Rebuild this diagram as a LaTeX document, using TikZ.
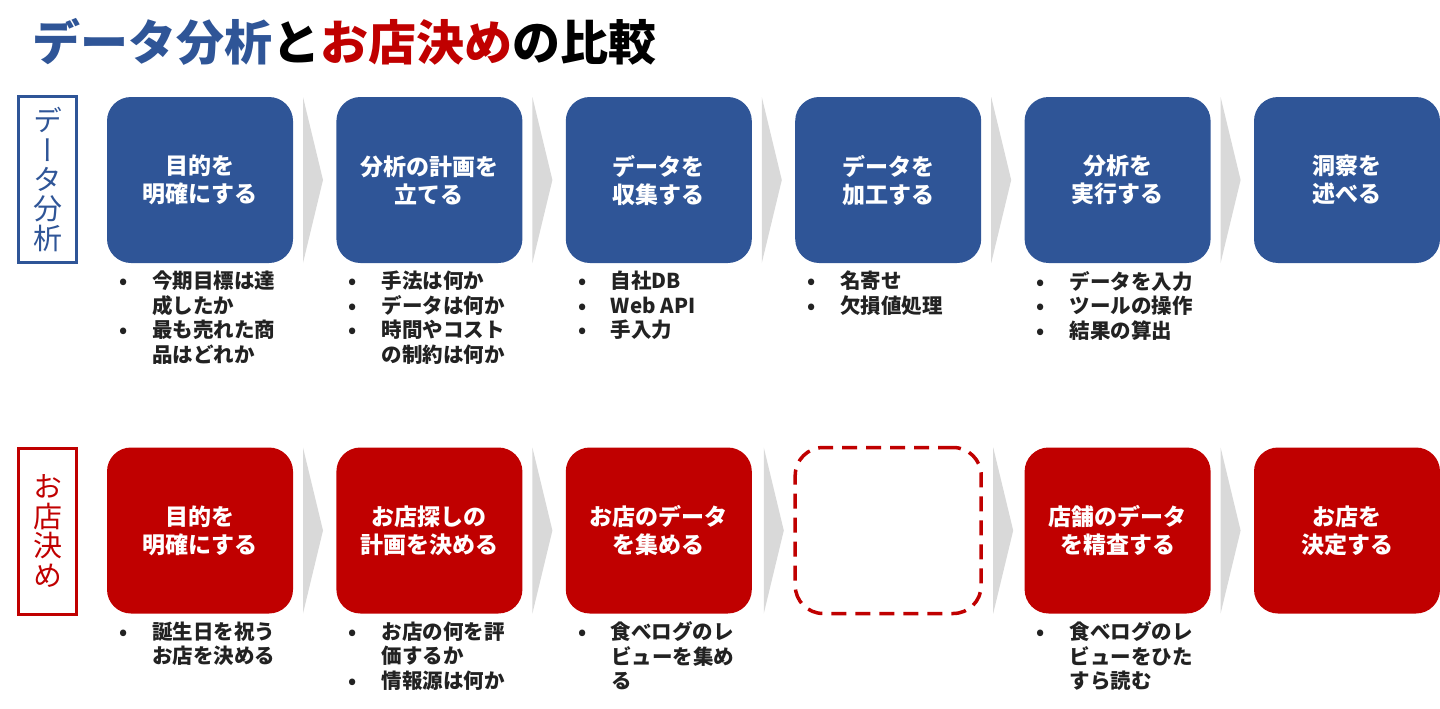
\documentclass[tikz,border=0pt]{standalone}
\usepackage{fontspec}
\setmainfont{Noto Sans CJK JP}
\newfontfamily\tate[RawFeature=+vert]{Noto Sans CJK JP}
\usetikzlibrary{arrows.meta,positioning}
\definecolor{anablue}{HTML}{2F5597}
\definecolor{shopred}{HTML}{C00000}
\definecolor{chevgray}{HTML}{D9D9D9}
\definecolor{notegray}{HTML}{222222}
\newcommand{\bul}{\makebox[33pt][l]{•}}
\newcommand{\cont}{\hspace*{33pt}}
\tikzset{
  stage/.style={rounded corners=24pt, minimum width=186pt, minimum height=166pt,
    inner sep=0pt, outer sep=0pt, text=white, align=center,
    font=\bfseries\fontsize{23}{28}\selectfont},
  bluestage/.style={stage, fill=anablue},
  redstage/.style={stage, fill=shopred},
  emptystage/.style={stage, draw=shopred, line width=3.5pt,
    dash pattern=on 15pt off 9pt, rounded corners=28pt},
  chev/.style={fill=chevgray},
  notes/.style={anchor=north west, align=left, inner sep=0pt, text=notegray,
    font=\bfseries\fontsize{20.5}{24.5}\selectfont},
  sidetag/.style={draw, line width=3pt, minimum width=58pt, minimum height=166pt,
    inner sep=0pt, align=center, font=\tate\fontsize{29}{29.4}\selectfont},
}
\begin{document}
\begin{tikzpicture}[x=1pt,y=-1pt,>=Latex]
  \useasboundingbox (0,0) rectangle (1440,709);
  \node[anchor=west, font=\bfseries\fontsize{48}{50}\selectfont] (title) at (29,42)
    {\textcolor{anablue}{データ分析}と\textcolor{shopred}{お店決め}の比較};

  % upper row
  \node[sidetag, draw=anablue, text=anablue] (t1) at (47.5,179.5) {デ\\ー\\タ\\分\\析};
  \node[bluestage] (b11) at (200,180) {目的を\\明確にする};
  \node[bluestage, right=43.4pt of b11] (b12) {分析の計画を\\立てる};
  \node[bluestage, right=43.4pt of b12] (b13) {データを\\収集する};
  \node[bluestage, right=43.4pt of b13] (b14) {データを\\加工する};
  \node[bluestage, right=43.4pt of b14] (b15) {分析を\\実行する};
  \node[bluestage, right=43.4pt of b15] (b16) {洞察を\\述べる};

  \node[notes] (n11) at ([xshift=12pt,yshift=-8pt]b11.south west)
    {\bul 今期目標は達\\\cont 成したか\\\bul 最も売れた商\\\cont 品はどれか};
  \node[notes] (n12) at ([xshift=12pt,yshift=-8pt]b12.south west)
    {\bul 手法は何か\\\bul データは何か\\\bul 時間やコスト\\\cont の制約は何か};
  \node[notes] (n13) at ([xshift=12pt,yshift=-8pt]b13.south west)
    {\bul 自社DB\\\bul Web API\\\bul 手入力};
  \node[notes] (n14) at ([xshift=12pt,yshift=-8pt]b14.south west)
    {\bul 名寄せ\\\bul 欠損値処理};
  \node[notes] (n15) at ([xshift=12pt,yshift=-8pt]b15.south west)
    {\bul データを入力\\\bul ツールの操作\\\bul 結果の算出};

  % lower row
  \node[sidetag, draw=shopred, text=shopred] (t2) at (47.5,531) {お\\店\\決\\め};
  \node[redstage] (b21) at (200,530.5) {目的を\\明確にする};
  \node[redstage, right=43.4pt of b21] (b22) {お店探しの\\計画を決める};
  \node[redstage, right=43.4pt of b22] (b23) {お店のデータ\\を集める};
  \node[emptystage, right=43.4pt of b23] (b24) {};
  \node[redstage, right=43.4pt of b24] (b25) {店舗のデータ\\を精査する};
  \node[redstage, right=43.4pt of b25] (b26) {お店を\\決定する};

  \node[notes] (n21) at ([xshift=12pt,yshift=-8pt]b21.south west)
    {\bul 誕生日を祝う\\\cont お店を決める};
  \node[notes] (n22) at ([xshift=12pt,yshift=-8pt]b22.south west)
    {\bul お店の何を評\\\cont 価するか\\\bul 情報源は何か};
  \node[notes] (n23) at ([xshift=12pt,yshift=-8pt]b23.south west)
    {\bul 食べログのレ\\\cont ビューを集め\\\cont る};
  \node[notes] (n25) at ([xshift=12pt,yshift=-8pt]b25.south west)
    {\bul 食べログのレ\\\cont ビューをひた\\\cont すら読む};

  % chevrons between the stages
  \fill[chev] ([xshift=10pt]b11.north east) -- ([xshift=30pt]b11.east) -- ([xshift=10pt]b11.south east) -- cycle;
  \fill[chev] ([xshift=10pt]b12.north east) -- ([xshift=30pt]b12.east) -- ([xshift=10pt]b12.south east) -- cycle;
  \fill[chev] ([xshift=10pt]b13.north east) -- ([xshift=30pt]b13.east) -- ([xshift=10pt]b13.south east) -- cycle;
  \fill[chev] ([xshift=10pt]b14.north east) -- ([xshift=30pt]b14.east) -- ([xshift=10pt]b14.south east) -- cycle;
  \fill[chev] ([xshift=10pt]b15.north east) -- ([xshift=30pt]b15.east) -- ([xshift=10pt]b15.south east) -- cycle;
  \fill[chev] ([xshift=10pt]b21.north east) -- ([xshift=30pt]b21.east) -- ([xshift=10pt]b21.south east) -- cycle;
  \fill[chev] ([xshift=10pt]b22.north east) -- ([xshift=30pt]b22.east) -- ([xshift=10pt]b22.south east) -- cycle;
  \fill[chev] ([xshift=12pt]b23.north east) -- ([xshift=32pt]b23.east) -- ([xshift=12pt]b23.south east) -- cycle;
  \fill[chev] ([xshift=12pt]b24.north east) -- ([xshift=32pt]b24.east) -- ([xshift=12pt]b24.south east) -- cycle;
  \fill[chev] ([xshift=10pt]b25.north east) -- ([xshift=30pt]b25.east) -- ([xshift=10pt]b25.south east) -- cycle;
\end{tikzpicture}
\end{document}
